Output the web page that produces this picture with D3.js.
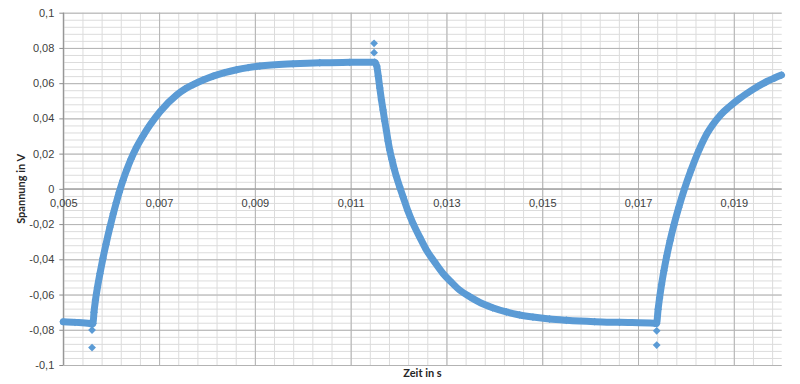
<!DOCTYPE html>
<html>
<head>
<meta charset="utf-8">
<script src="https://cdn.jsdelivr.net/npm/d3@7"></script>
<style>
  html, body { margin: 0; padding: 0; background: #fff; }
  svg { display: block; font-family: Lato, "Open Sans", sans-serif; }
</style>
</head>
<body>
<div id="chart"></div>
<script>
const zeit = [
  0.005, 0.005244, 0.005557, 0.005599, 0.00562, 0.005641, 0.005672, 0.005714, 0.005766,
  0.005828, 0.005891, 0.005974, 0.006043, 0.006106, 0.006168, 0.006246, 0.006323, 0.006412,
  0.006531, 0.006663, 0.006809, 0.007018, 0.007366, 0.00754, 0.007712, 0.00792, 0.00813,
  0.00837, 0.008618, 0.00886, 0.009104, 0.009799, 0.010356, 0.010982, 0.011503,
  0.011545, 0.011576, 0.011608, 0.011643, 0.011676, 0.011712, 0.011747, 0.011781, 0.011816,
  0.011862, 0.011908, 0.011956, 0.012025, 0.012094, 0.012192, 0.012302, 0.012442, 0.012582,
  0.012755, 0.012928, 0.013099, 0.013277, 0.013485, 0.013694, 0.013965, 0.014251, 0.014528,
  0.014806, 0.015154, 0.015503, 0.016093, 0.016615, 0.017345, 0.017387,
  0.01742, 0.01745, 0.01749, 0.01754, 0.0176, 0.01767, 0.01775, 0.01785, 0.01797,
  0.01811, 0.01828, 0.01845, 0.01856, 0.01873, 0.01891, 0.01911, 0.01933, 0.0195,
  0.01968, 0.01984, 0.019995
];
const spannung = [
  -0.0755, -0.0758, -0.0764, -0.0768, -0.0765, -0.07, -0.0631, -0.0558, -0.048,
  -0.0394, -0.0314, -0.0217, -0.0142, -0.0078, -0.0019, 0.0048, 0.0107, 0.0168,
  0.0237, 0.03, 0.0362, 0.0438, 0.0533, 0.0567, 0.0592, 0.0618, 0.064,
  0.066, 0.0676, 0.0688, 0.0697, 0.071, 0.0716, 0.0718, 0.0719,
  0.0697, 0.0641, 0.0573, 0.0505, 0.0448, 0.0385, 0.0329, 0.0271, 0.022,
  0.0166, 0.0115, 0.0069, 0.001, -0.0045, -0.0123, -0.0196, -0.0274, -0.0347,
  -0.0416, -0.048, -0.0529, -0.0575, -0.0612, -0.0645, -0.0675, -0.0699, -0.0716,
  -0.0728, -0.0739, -0.0746, -0.0754, -0.0758, -0.0763, -0.0765,
  -0.0683, -0.0619, -0.0545, -0.0465, -0.0381, -0.0294, -0.0205, -0.0106, 0.0,
  0.0108, 0.0224, 0.0318, 0.0364, 0.0422, 0.0467, 0.0511, 0.0552, 0.0581,
  0.0608, 0.0628, 0.0646
];
// einzelne Ausreisser an den Umschaltpunkten
const ausreisserZeit = [0.0056, 0.0056, 0.011489, 0.011489, 0.01739, 0.01739];
const ausreisserSpannung = [-0.0802, -0.0901, 0.0826, 0.0773, -0.0806, -0.0887];

const xTickWerte = [0.005, 0.007, 0.009, 0.011, 0.013, 0.015, 0.017, 0.019];
const yTickWerte = [-0.1, -0.08, -0.06, -0.04, -0.02, 0, 0.02, 0.04, 0.06, 0.08, 0.1];
const xTitel = 'Zeit in s';
const yTitel = 'Spannung in V';

const width = 800;
const height = 384;
const pLeft = 63.3, pRight = 781.7, pTop = 12.7, pBottom = 365;
const farbe = '#5b9bd5';

const svg = d3.select('#chart')
              .append('svg')
              .attr('width', width)
              .attr('height', height);

const xScale = d3.scaleLinear().domain([0.005, 0.020]).range([pLeft, pRight]);
const yScale = d3.scaleLinear().domain([-0.1, 0.1]).range([pBottom, pTop]);

const komma = (d) => d === 0 ? '0' : String(+d.toFixed(3)).replace('.', ',');

// Hilfsgitter
const xMinor = d3.range(0, 38).map((i) => 0.005 + i * 0.0004);
const yMinor = d3.range(0, 51).map((i) => -0.1 + i * 0.004);

svg.append('g')
   .attr('transform', 'translate(0,' + pBottom + ')')
   .call(d3.axisBottom(xScale).tickValues(xMinor).tickSize(-(pBottom - pTop)).tickFormat(''))
   .call((g) => g.select('.domain').remove())
   .selectAll('line').attr('stroke', '#dcdcdc');

svg.append('g')
   .attr('transform', 'translate(' + pLeft + ',0)')
   .call(d3.axisLeft(yScale).tickValues(yMinor).tickSize(-(pRight - pLeft)).tickFormat(''))
   .call((g) => g.select('.domain').remove())
   .selectAll('line').attr('stroke', '#dcdcdc');

// Hauptgitter
svg.append('g')
   .attr('transform', 'translate(0,' + pBottom + ')')
   .call(d3.axisBottom(xScale).tickValues(xTickWerte).tickSize(-(pBottom - pTop)).tickFormat(''))
   .call((g) => g.select('.domain').remove())
   .selectAll('line').attr('stroke', '#b3b3b3');

svg.append('g')
   .attr('transform', 'translate(' + pLeft + ',0)')
   .call(d3.axisLeft(yScale).tickValues(yTickWerte).tickSize(-(pRight - pLeft)).tickFormat(''))
   .call((g) => g.select('.domain').remove())
   .selectAll('line').attr('stroke', '#b3b3b3');

// y-Achse
const yAxis = svg.append('g')
   .attr('id', 'y-axis')
   .attr('transform', 'translate(' + pLeft + ',0)')
   .call(d3.axisLeft(yScale).tickValues(yTickWerte).tickSize(4).tickPadding(5).tickFormat(komma));
yAxis.select('.domain').attr('stroke', '#8c8c8c').attr('d', 'M0,' + pTop + 'V' + pBottom);
yAxis.selectAll('line').attr('stroke', '#8c8c8c');
yAxis.selectAll('text').attr('fill', '#404040').style('font-size', '11px');

// x-Achse bei 0
const xAxis = svg.append('g')
   .attr('id', 'x-axis')
   .attr('transform', 'translate(0,' + yScale(0) + ')')
   .call(d3.axisBottom(xScale).tickValues(xTickWerte).tickSize(0).tickPadding(10).tickFormat(komma));
xAxis.select('.domain').attr('stroke', '#9a9a9a').attr('d', 'M' + pLeft + ',0H' + pRight);
xAxis.selectAll('text').attr('fill', '#404040').style('font-size', '11px');

// Messkurve
const punkte = zeit.map((t, i) => [t, spannung[i]]);

svg.append('path')
   .datum(punkte)
   .attr('fill', 'none')
   .attr('stroke', farbe)
   .attr('stroke-width', 7)
   .attr('stroke-linejoin', 'round')
   .attr('stroke-linecap', 'round')
   .attr('d', d3.line().curve(d3.curveMonotoneX).x((d) => xScale(d[0])).y((d) => yScale(d[1])));

const raute = 'M0,-3.9L3.9,0L0,3.9L-3.9,0Z';

svg.append('g')
   .selectAll('path')
   .data(punkte)
   .enter()
   .append('path')
   .attr('d', raute)
   .attr('fill', farbe)
   .attr('transform', (d) => 'translate(' + xScale(d[0]) + ',' + yScale(d[1]) + ')');

svg.append('g')
   .selectAll('path')
   .data(ausreisserZeit.map((t, i) => [t, ausreisserSpannung[i]]))
   .enter()
   .append('path')
   .attr('d', raute)
   .attr('fill', farbe)
   .attr('transform', (d) => 'translate(' + xScale(d[0]) + ',' + yScale(d[1]) + ')');

// Achsentitel
svg.append('text')
   .attr('x', (pLeft + pRight) / 2)
   .attr('y', 377)
   .attr('text-anchor', 'middle')
   .style('font-size', '11px')
   .style('font-weight', 'bold')
   .attr('fill', '#262626')
   .text(xTitel);

svg.append('text')
   .attr('transform', 'translate(25,' + (pTop + pBottom) / 2 + ') rotate(-90)')
   .attr('text-anchor', 'middle')
   .style('font-size', '11px')
   .style('font-weight', 'bold')
   .attr('fill', '#262626')
   .text(yTitel);
</script>
</body>
</html>
